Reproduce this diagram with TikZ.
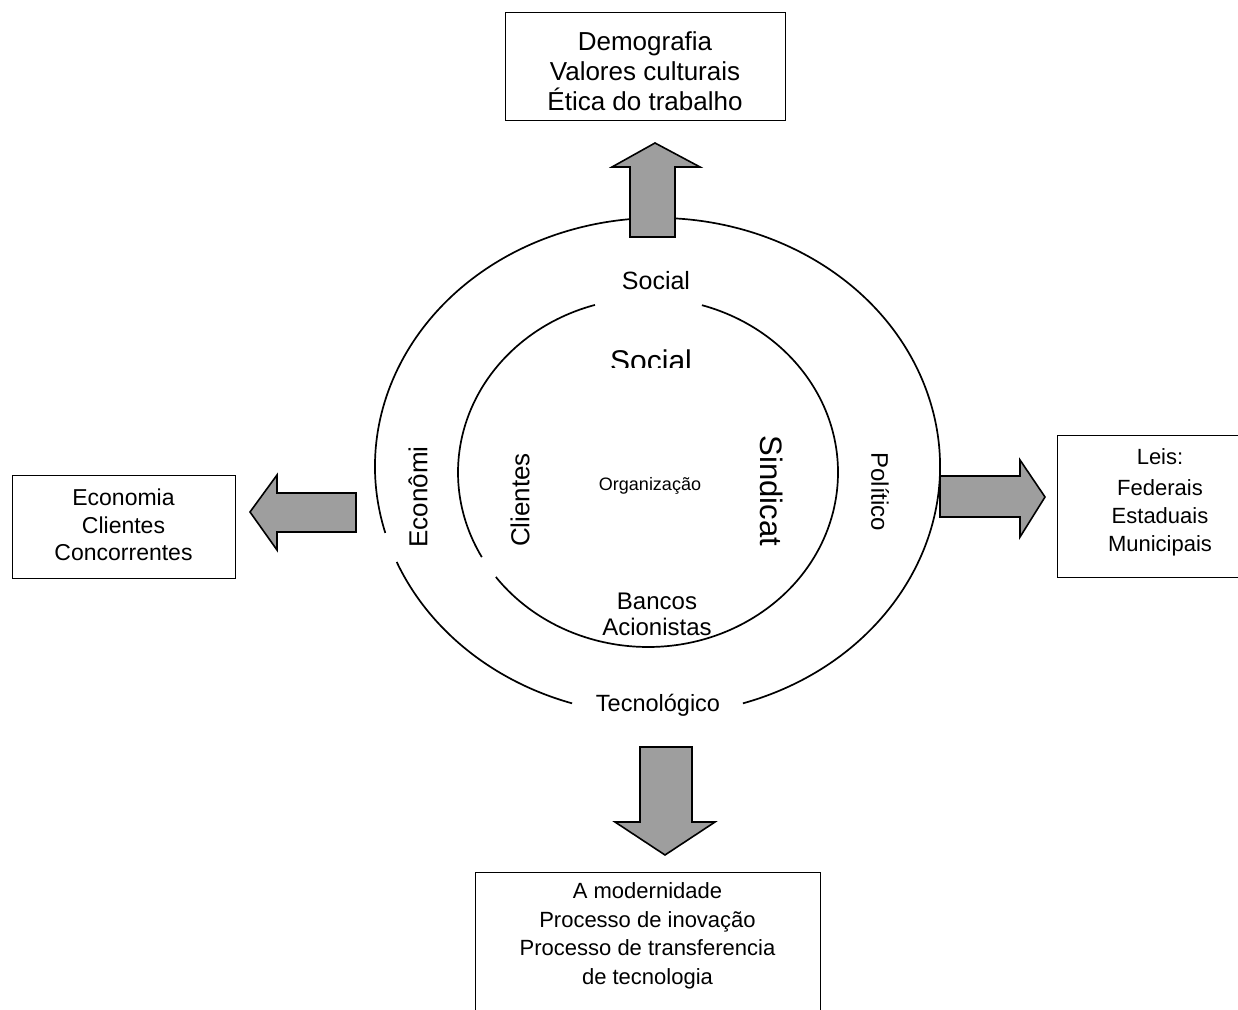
\documentclass[tikz,border=0pt]{standalone}
\usepackage{fontspec}
\setmainfont{Liberation Sans}
\tikzset{
  fs/.style 2 args={font=\fontsize{#1}{#2}\selectfont},
  boxst/.style={draw, line width=1.4pt, inner sep=0pt},
  ring/.style={line width=1.7pt},
  blockarrow/.style={draw, line width=1.6pt, fill=black!38, line join=miter}
}
\begin{document}
\begin{tikzpicture}[x=1pt,y=1pt]
\useasboundingbox (0,0) rectangle (1238,1009);
% outer ring
\draw[ring] (657.5,542.5) ++(202.6:282.5pt and 248.5pt) arc[start angle=202.6,end angle=252.4,x radius=282.5pt,y radius=248.5pt];
\draw[ring] (657.5,542.5) ++(287.6:282.5pt and 248.5pt) arc[start angle=287.6,end angle=555.5,x radius=282.5pt,y radius=248.5pt];
% inner ring
\draw[ring] (648,536.5) ++(106.2:190pt and 174.5pt) arc[start angle=106.2,end angle=209,x radius=190pt,y radius=174.5pt];
\draw[ring] (648,536.5) ++(216.8:190pt and 174.5pt) arc[start angle=216.8,end angle=433.5,x radius=190pt,y radius=174.5pt];
% block arrows
\draw[blockarrow] (630,772) -- (630,842) -- (612,842) -- (655,866) -- (700,842) -- (675,842) -- (675,772) -- cycle;
\draw[blockarrow] (356,516) -- (277,516) -- (277,534) -- (250,497) -- (277,459) -- (277,477) -- (356,477) -- cycle;
\draw[blockarrow] (940,533) -- (1020,533) -- (1020,549) -- (1045,512) -- (1020,472) -- (1020,492) -- (940,492) -- cycle;
\draw[blockarrow] (640,262) -- (692,262) -- (692,187) -- (715,187) -- (665,154) -- (615,187) -- (640,187) -- cycle;
% boxes
\node[boxst, minimum width=280pt, minimum height=108pt, anchor=north west] (topbox) at (505,997) {};
\node[fs={26}{30}, align=center] (toptext) at (645,938) {Demografia\\Valores culturais\\Ética do trabalho};
\node[boxst, minimum width=223pt, minimum height=103pt, anchor=north west] (leftbox) at (12,534) {};
\node[fs={23}{27.5}, align=center] (lefttext) at (123.5,484) {Economia\\Clientes\\Concorrentes};
\node[boxst, minimum width=206pt, minimum height=142pt, anchor=north west] (rightbox) at (1057,574) {};
\node[fs={22}{28}, align=center] (righttext) at (1160,507) {Leis:\\[3pt]Federais\\Estaduais\\Municipais};
\node[boxst, minimum width=345pt, minimum height=200pt, anchor=north west] (botbox) at (475,137) {};
\node[fs={22}{28.5}, align=center] (bottext) at (647.5,73) {A modernidade\\Processo de inovação\\Processo de transferencia\\de tecnologia};
% ring labels
\node[fs={25}{30}] (socialout) at (656,728) {Social};
\begin{scope}
\clip (0,641) rectangle (1238,700);
\node[fs={30}{34}, anchor=base] (socialin) at (651,637.5) {Social};
\end{scope}
\node[fs={18}{20}] (org) at (650,523) {Organização};
\node[fs={24}{26}, align=center] (bancos) at (657,395) {Bancos\\Acionistas};
\node[fs={23.5}{26}] (tec) at (658,304) {Tecnológico};
\node[fs={26}{30}, rotate=90] (econ) at (418,512) {Econômi};
\node[fs={26}{30}, rotate=90] (cli) at (520,509) {Clientes};
\node[fs={31}{34}, rotate=-90] (sind) at (772,518) {Sindicat};
\node[fs={24}{28}, rotate=-90] (pol) at (880,517) {Político};
\end{tikzpicture}
\end{document}
